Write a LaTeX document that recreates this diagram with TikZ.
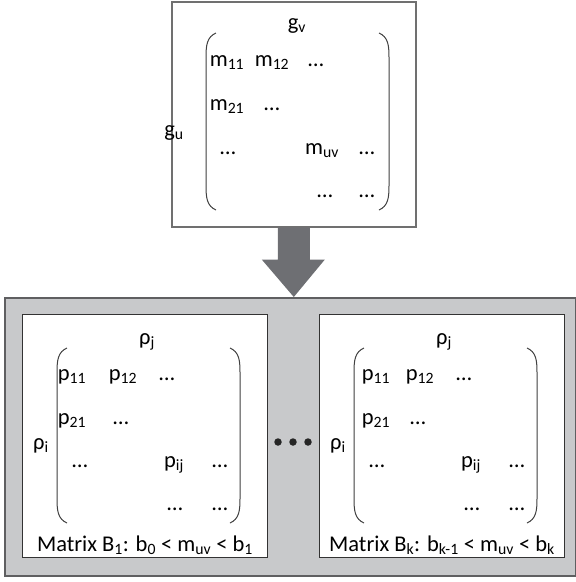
\documentclass[tikz,border=0pt]{standalone}
\usepackage{fontspec}
\setmainfont{Carlito}
\usetikzlibrary{
    calc,
    positioning
}
\definecolor{bandgray}{RGB}{200,201,203}
\definecolor{bandline}{RGB}{95,95,97}
\definecolor{arrowgray}{RGB}{110,111,115}
\definecolor{frameline}{RGB}{112,112,112}
\tikzset{entry/.style={inner sep=0pt, anchor=base, font=\fontsize{22.5}{27}\selectfont}}
\tikzset{framebox/.style={draw=frameline, line width=1.6pt, fill=white, anchor=north west, inner sep=0pt}}
\tikzset{subbox/.style={draw=black!80, line width=1.3pt, fill=white, anchor=north west, inner sep=0pt}}
\tikzset{paren/.style={draw=black!75, line width=1pt}}
\tikzset{dot/.style={inner sep=0pt, minimum size=7.5pt, circle, fill=black!85}}
% left x, right x, top y, bottom y
\newcommand{\matparens}[4]{
    \draw[paren] ({#1+10},#3) .. controls ({#1+1},{#3+4}) and (#1,{#3+12}) .. (#1,{#3+24})
        -- (#1,{#4-24}) .. controls (#1,{#4-12}) and ({#1+1},{#4-4}) .. ({#1+10},#4);
    \draw[paren] ({#2-10},#3) .. controls ({#2-1},{#3+4}) and (#2,{#3+12}) .. (#2,{#3+24})
        -- (#2,{#4-24}) .. controls (#2,{#4-12}) and ({#2-1},{#4-4}) .. ({#2-10},#4);
}

\begin{document}
\begin{tikzpicture}[x=1pt, y=-1pt]
    \useasboundingbox (0,0) rectangle (576,582);
    % source matrix
    \node[framebox, minimum width=244, minimum height=225] (gbox) at (171,1) {};
    \node[entry] (gv) at (297,29) {g\textsubscript{v}};
    \node[entry] (gu) at (174,136) {g\textsubscript{u}};
    \node[entry] (m11) at (227,66) {m\textsubscript{11}};
    \node[entry] (m12) at (272,66) {m\textsubscript{12}};
    \node[entry] (m13) at (316,66) {…};
    \node[entry] (m21) at (227,110) {m\textsubscript{21}};
    \node[entry] (m22) at (272,110) {…};
    \node[entry] (m31) at (228,154) {…};
    \node[entry] (muv) at (322,154) {m\textsubscript{uv}};
    \node[entry] (m33) at (367,154) {…};
    \node[entry] (m43) at (325,197) {…};
    \node[entry] (m44) at (367,197) {…};
    \matparens{206}{389}{33}{210}

    % band of sub-matrices
    \node[draw=bandline, line width=1.8pt, fill=bandgray, anchor=north west, inner sep=0pt,
        minimum width=571, minimum height=278] (band) at (4,297) {};
    \fill[arrowgray]
        ($(gbox.south)+(-16,0)$) -- ($(gbox.south)+(16,0)$) -- ($(gbox.south)+(16,32)$)
        -- ($(gbox.south)+(31,32)$) -- (gbox.south |- band.north)
        -- ($(gbox.south)+(-32,32)$) -- ($(gbox.south)+(-16,32)$) -- cycle;

    \foreach \k/\dx/\cx/\cap in {1/0/72/{Matrix B\textsubscript{1}: b\textsubscript{0} < m\textsubscript{uv} < b\textsubscript{1}},
                                 k/297/79/{Matrix B\textsubscript{k}: b\textsubscript{k-1} < m\textsubscript{uv} < b\textsubscript{k}}}{
        \begin{scope}[xshift=\dx]
            \node[subbox, minimum width=245, minimum height=243] (B\k) at (22,314) {};
            \node[entry] (rhoj\k) at (147,344) {ρ\textsubscript{j}};
            \node[entry] (rhoi\k) at (41,449) {ρ\textsubscript{i}};
            \node[entry] (p11\k) at (\cx,380) {p\textsubscript{11}};
            \node[entry] (p12\k) at (123,380) {p\textsubscript{12}};
            \node[entry] (p13\k) at (167,380) {…};
            \node[entry] (p21\k) at (\cx,424) {p\textsubscript{21}};
            \node[entry] (p22\k) at (121,424) {…};
            \node[entry] (p31\k) at (80,467) {…};
            \node[entry] (pij\k) at (174,467) {p\textsubscript{ij}};
            \node[entry] (p33\k) at (220,467) {…};
            \node[entry] (p43\k) at (175,510) {…};
            \node[entry] (p44\k) at (220,510) {…};
            \node[entry] (cap\k) at (145,551) {\cap};
            \matparens{57}{240}{348}{523}
        \end{scope}
    }
    \node[dot] (dots1) at (278,442) {};
    \node[dot] (dots2) at (293,442) {};
    \node[dot] (dots3) at (308,442) {};
\end{tikzpicture}
\end{document}
